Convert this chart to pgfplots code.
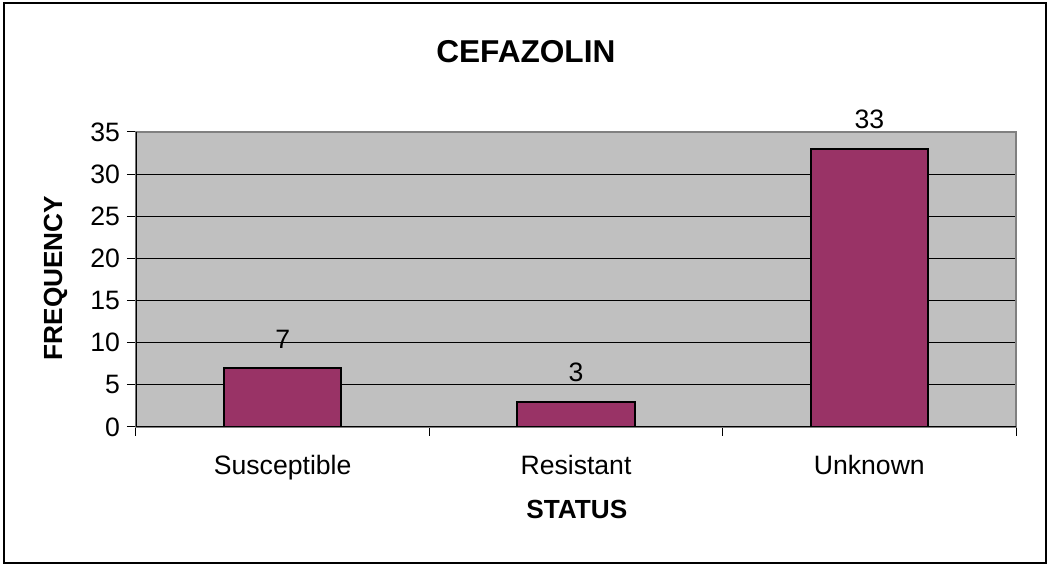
\documentclass[border=0pt]{standalone}
\usepackage{pgfplots}
\pgfplotsset{compat=1.18}
\usepackage{fontspec}
\setmainfont{Liberation Sans}
\definecolor{barPlum}{HTML}{993366}
\definecolor{plotGray}{HTML}{C0C0C0}
\definecolor{frameGray}{HTML}{808080}

\begin{document}
\begin{tikzpicture}
  % page = 1048x565 px at 0.5pt per px, origin at plot's lower-left corner
  \useasboundingbox (-68pt,-69pt) rectangle (456pt,213.5pt);
  \draw[black, line width=0.6pt] (-66pt,-68pt) rectangle (455pt,212pt);
  \begin{axis}[
      at={(0pt,0pt)}, anchor=south west,
      scale only axis,
      width=440pt, height=147.5pt,
      ybar, bar width=0.4,
      xmin=-0.5, xmax=2.5,
      ymin=0, ymax=35,
      xtick={0,1,2},
      xticklabels={Susceptible, Resistant, Unknown},
      major x tick style={draw=none},
      minor xtick={-0.5,0.5,1.5,2.5},
      ytick={0,5,...,35},
      xtick pos=bottom, ytick pos=left,
      tick align=outside,
      major tick length=4.5pt, minor tick length=4.5pt,
      tick style={black, line width=0.5pt},
      ymajorgrids,
      grid style={black, line width=0.5pt},
      axis background/.style={fill=plotGray},
      axis line style={frameGray, line width=1pt},
      tick label style={font=\fontsize{13.3}{16}\selectfont},
      /pgf/number format/assume math mode=true,
      xticklabel style={yshift=-6pt},
      nodes near coords,
      nodes near coords style={font=\fontsize{13.3}{16}\selectfont, yshift=6pt},
      title={\textbf{CEFAZOLIN}},
      title style={font=\fontsize{15.8}{18}\selectfont, at={(axis description cs:0.443,1.271)}, anchor=center, yshift=-6pt},
      xlabel={\textbf{STATUS}},
      xlabel style={font=\fontsize{13.1}{15}\selectfont, at={(axis description cs:0.501,-0.281)}, anchor=center},
      ylabel={\textbf{FREQUENCY}},
      ylabel style={font=\fontsize{13.1}{15}\selectfont, at={(axis description cs:-0.0915,0.505)}, anchor=center, rotate=0},
    ]
    \addplot[fill=barPlum, draw=black, line width=1pt]
      coordinates {(0,7) (1,3) (2,33)};
    \draw[black, line width=0.8pt] (rel axis cs:0,1) -- (rel axis cs:0,0) -- (rel axis cs:1,0);
  \end{axis}
\end{tikzpicture}
\end{document}
